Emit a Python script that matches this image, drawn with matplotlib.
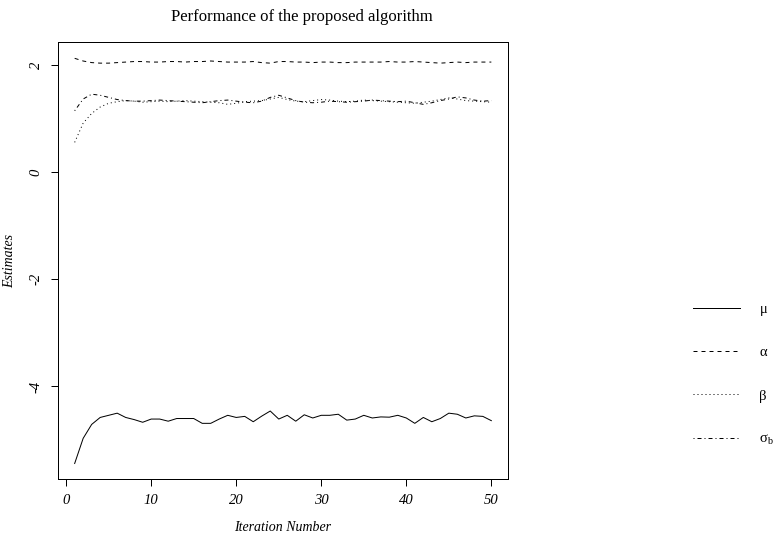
import numpy as np
import matplotlib
matplotlib.use("Agg")
import matplotlib.pyplot as plt

plt.rcParams['font.family'] = ['Liberation Serif', 'DejaVu Serif']
plt.rcParams['mathtext.fontset'] = 'custom'
plt.rcParams['mathtext.rm'] = 'Liberation Serif'

# iteration index and estimates
iterations = np.arange(1, 51)

mu = [-5.44, -4.97, -4.71, -4.58, -4.54, -4.50, -4.58, -4.62, -4.67, -4.61,
      -4.61, -4.65, -4.60, -4.60, -4.60, -4.69, -4.69, -4.61, -4.54, -4.58,
      -4.56, -4.66, -4.555, -4.46, -4.61, -4.54, -4.65, -4.53, -4.59, -4.54,
      -4.54, -4.52, -4.63, -4.61, -4.54, -4.59, -4.57, -4.575, -4.54, -4.59,
      -4.69, -4.58, -4.66, -4.60, -4.50, -4.52, -4.59, -4.55, -4.56, -4.64]

alpha = [2.13, 2.08, 2.05, 2.04, 2.04, 2.05, 2.06, 2.07, 2.07, 2.06,
         2.06, 2.07, 2.07, 2.06, 2.07, 2.07, 2.08, 2.07, 2.06, 2.06,
         2.06, 2.07, 2.05, 2.04, 2.07, 2.07, 2.06, 2.06, 2.05, 2.06,
         2.06, 2.05, 2.05, 2.06, 2.06, 2.06, 2.06, 2.07, 2.06, 2.06,
         2.07, 2.06, 2.05, 2.04, 2.05, 2.06, 2.05, 2.06, 2.06, 2.06]

beta = [0.56, 0.92, 1.10, 1.22, 1.29, 1.32, 1.34, 1.33, 1.31, 1.32,
        1.33, 1.32, 1.33, 1.34, 1.33, 1.32, 1.31, 1.30, 1.27, 1.29,
        1.32, 1.33, 1.34, 1.37, 1.40, 1.36, 1.33, 1.32, 1.34, 1.36,
        1.35, 1.33, 1.32, 1.33, 1.35, 1.34, 1.33, 1.32, 1.31, 1.30,
        1.29, 1.31, 1.33, 1.36, 1.39, 1.37, 1.34, 1.33, 1.32, 1.31]

sigma_b = [1.15, 1.37, 1.46, 1.44, 1.40, 1.36, 1.34, 1.33, 1.33, 1.34,
           1.35, 1.34, 1.33, 1.32, 1.31, 1.30, 1.32, 1.34, 1.35, 1.33,
           1.31, 1.30, 1.33, 1.40, 1.44, 1.39, 1.34, 1.31, 1.30, 1.31,
           1.33, 1.32, 1.31, 1.32, 1.33, 1.35, 1.34, 1.33, 1.32, 1.33,
           1.30, 1.27, 1.30, 1.34, 1.37, 1.41, 1.39, 1.35, 1.33, 1.34]

labels = ['μ', 'α', 'β', r'$\mathregular{σ_b}$']
x_ticks = [0, 10, 20, 30, 40, 50]
y_ticks = [-4, -2, 0, 2]

W, H = 780, 536
fig = plt.figure(figsize=(W / 100, H / 100), dpi=100)
# plot box in pixels: left 58, right 508, top 42, bottom 479
ax = fig.add_axes([58 / W, 1 - 479 / H, (508 - 58) / W, (479 - 42) / H])

lw = 0.72
styles = ['-', (0, (4, 4)), (0, (1, 3)), (0, (1, 3, 4, 3))]
series = [mu, alpha, beta, sigma_b]
handles = []
for vals, ls in zip(series, styles):
    h, = ax.plot(iterations, vals, color='black', lw=lw, linestyle=ls)
    handles.append(h)

ax.set_xlim(-0.96, 51.96)
ax.set_ylim(-5.73, 2.435)
ax.set_xticks(x_ticks)
ax.set_yticks(y_ticks)
ax.set_xticklabels([str(t) for t in x_ticks], fontstyle='italic', fontsize=10.5)
ax.set_yticklabels([str(t) for t in y_ticks], fontstyle='italic', fontsize=10.5,
                   rotation=90, va='center')
ax.tick_params(direction='out', length=5, width=0.72, pad=6)
for s in ax.spines.values():
    s.set_linewidth(0.72)

ax.set_xlabel('Iteration Number', fontstyle='italic', fontsize=10, labelpad=10)
ax.set_ylabel('Estimates', fontstyle='italic', fontsize=10, labelpad=10)
fig.text(302 / W, 1 - 17 / H, 'Performance of the proposed algorithm',
         ha='center', va='center', fontsize=12)

# legend outside the box, to the right
fig.legend(handles, labels, loc='upper left', bbox_to_anchor=(680 / W, 1 - 290 / H),
           frameon=False, fontsize=10.5, handlelength=3.2, handletextpad=1.35,
           labelspacing=2.05)

fig.savefig('out.png', dpi=100)
